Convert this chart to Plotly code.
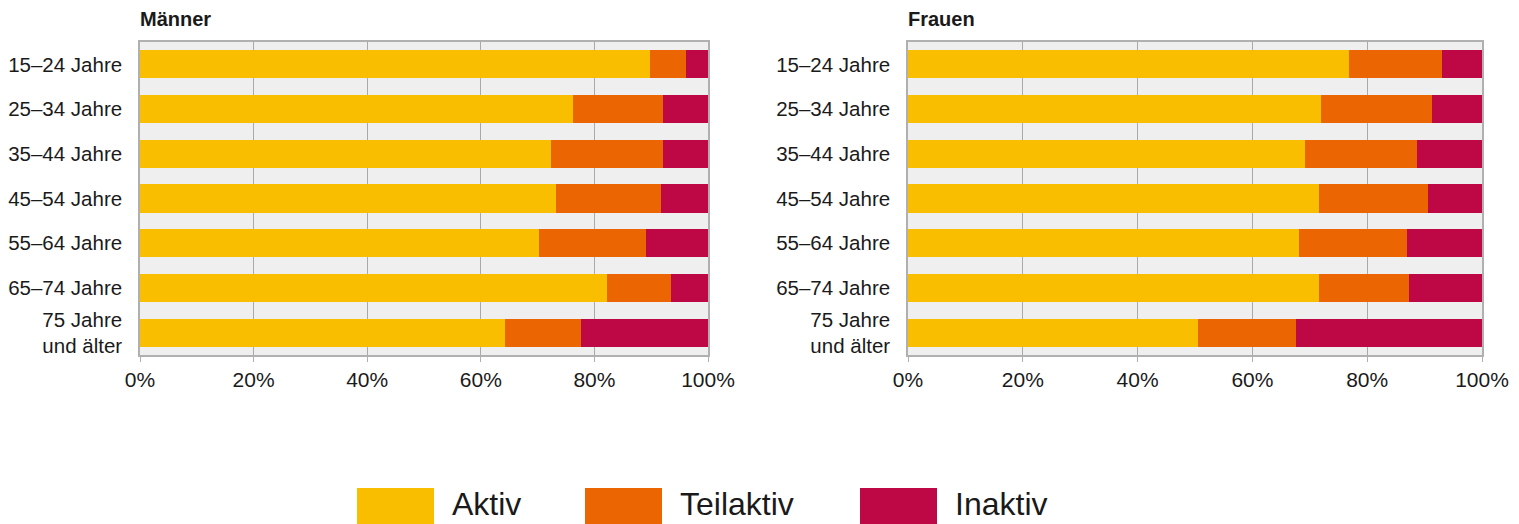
import plotly.graph_objects as go

categories = ["15–24 Jahre", "25–34 Jahre", "35–44 Jahre", "45–54 Jahre",
              "55–64 Jahre", "65–74 Jahre", "75 Jahre<br>und älter"]
series_names = ["Aktiv", "Teilaktiv", "Inaktiv"]
colors = ["#FABE00", "#EB6503", "#BE0845"]

# Männer (percent)
men_aktiv = [89.7, 76.3, 72.3, 73.2, 70.3, 82.3, 64.3]
men_teil = [6.4, 15.8, 19.8, 18.6, 18.7, 11.1, 13.4]
men_inaktiv = [3.9, 7.9, 7.9, 8.2, 11.0, 6.6, 22.3]

# Frauen (percent)
women_aktiv = [76.8, 72.0, 69.1, 71.6, 68.2, 71.6, 50.5]
women_teil = [16.2, 19.3, 19.6, 19.0, 18.8, 15.7, 17.1]
women_inaktiv = [7.0, 8.7, 11.3, 9.4, 13.0, 12.7, 32.4]

xticks = [0, 20, 40, 60, 80, 100]
panel_titles = ["Männer", "Frauen"]

FONT = "Liberation Sans, Arial, sans-serif"
fig = go.Figure()

data = [
    (("x", "y"), [men_aktiv, men_teil, men_inaktiv]),
    (("x2", "y2"), [women_aktiv, women_teil, women_inaktiv]),
]
for (xa, ya), vals in data:
    for name, v, c in zip(series_names, vals, colors):
        fig.add_trace(go.Bar(
            y=categories, x=v, name=name, orientation="h",
            marker=dict(color=c, line=dict(width=0)),
            xaxis=xa, yaxis=ya, showlegend=False,
        ))

# the page body has an 8px margin, so the figure is 8px smaller and
# page coordinates are shifted by OFF
OFF = 8
W, H = 1519 - OFF, 524 - OFF


def px(x):
    return (x - OFF) / W


def py(y):
    return 1 - (y - OFF) / H


dom_left = [px(140), px(708)]
dom_right = [px(908), px(1482)]
ydom = [py(355), py(42)]

xaxis_common = dict(
    range=[0, 100], tickvals=xticks, ticktext=[f"{t}%" for t in xticks],
    showgrid=True, gridcolor="#A9A9A9", gridwidth=1,
    showline=True, linecolor="#B0B0B0", linewidth=1.5, mirror=True,
    ticks="outside", ticklen=5, tickcolor="#B0B0B0",
    tickfont=dict(family=FONT, size=21, color="#1a1a1a"),
    zeroline=False, fixedrange=True, automargin=False,
)
yaxis_common = dict(
    categoryorder="array", categoryarray=categories, autorange="reversed",
    showgrid=False, showline=True, linecolor="#B0B0B0", linewidth=1.5, mirror=True,
    ticks="", ticklabelstandoff=12,
    tickfont=dict(family=FONT, size=20.5, color="#1a1a1a"),
    domain=ydom, fixedrange=True, automargin=False,
)

fig.update_layout(
    width=W, height=H,
    margin=dict(l=0, r=0, t=0, b=0, autoexpand=False),
    paper_bgcolor="white", plot_bgcolor="#EFEFEF",
    barmode="stack", bargap=0.37,
    xaxis=dict(domain=dom_left, anchor="y", **xaxis_common),
    yaxis=dict(anchor="x", **yaxis_common),
    xaxis2=dict(domain=dom_right, anchor="y2", **xaxis_common),
    yaxis2=dict(anchor="x2", **yaxis_common),
    showlegend=False,
)

# panel titles
for title, dom in zip(panel_titles, [dom_left, dom_right]):
    fig.add_annotation(
        text=f"<b>{title}</b>", xref="paper", yref="paper",
        x=dom[0] - 2 / W, y=py(19), xanchor="left", yanchor="middle",
        showarrow=False, font=dict(family=FONT, size=20, color="#1a1a1a"),
    )

# custom legend with large swatches
legend_x = [357, 585, 860]
for name, c, lx in zip(series_names, colors, legend_x):
    fig.add_shape(type="rect", xref="paper", yref="paper",
                  x0=px(lx), x1=px(lx + 77), y0=-0.05, y1=py(488),
                  fillcolor=c, line=dict(width=0))
    fig.add_annotation(
        text=name, xref="paper", yref="paper",
        x=px(lx + 93), y=py(504), xanchor="left", yanchor="middle",
        showarrow=False, font=dict(family=FONT, size=32, color="#1a1a1a"),
    )

fig.write_html("out.html")
